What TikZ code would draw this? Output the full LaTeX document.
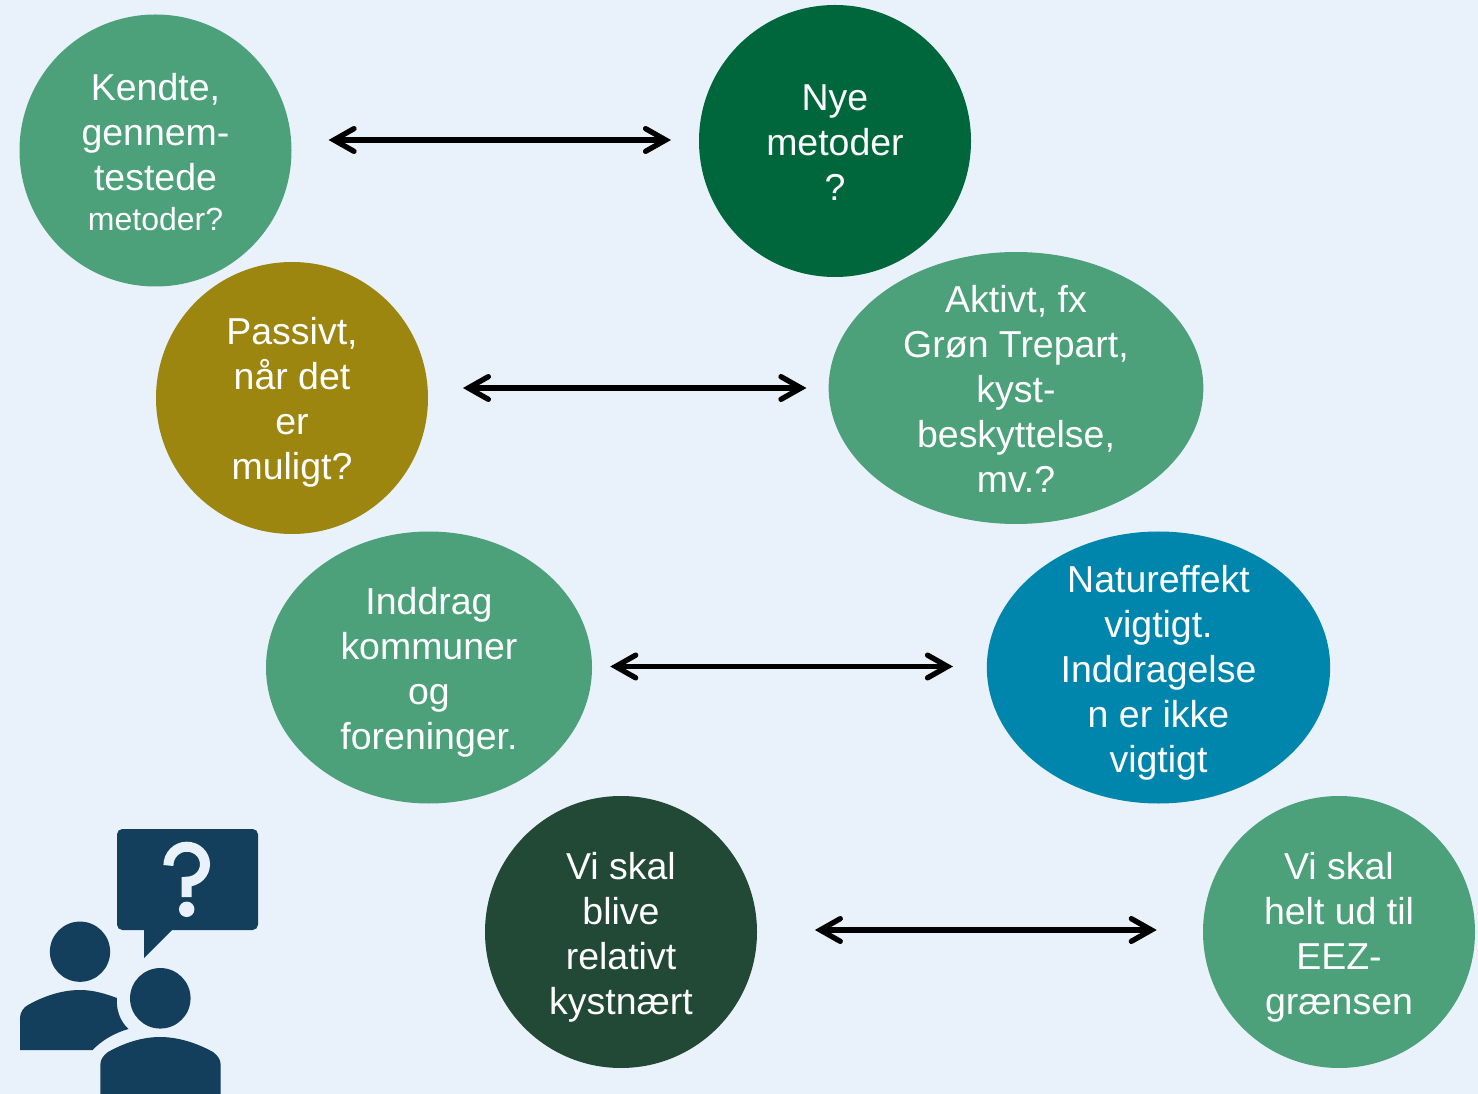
\documentclass[tikz,border=0pt]{standalone}
\usepackage{fontspec}
\setmainfont{Liberation Sans}
\usetikzlibrary{shapes.geometric,arrows.meta}
\definecolor{bgc}{HTML}{E9F2FA}
\definecolor{gA}{HTML}{4CA17A}
\definecolor{gB}{HTML}{00663C}
\definecolor{olv}{HTML}{9C8610}
\definecolor{blu}{HTML}{0085AD}
\definecolor{dkg}{HTML}{214936}
\definecolor{ico}{HTML}{143F5C}
\tikzset{
  bub/.style={ellipse,inner sep=0pt,minimum height=204pt},
  bubtxt/.style={inner sep=0pt,text=white,align=center,font=\fontsize{28.1}{33.75}\selectfont},
  biarrow/.style={line width=4pt,{Straight Barb[length=15pt,width=17pt,line cap=round]}-{Straight Barb[length=15pt,width=17pt,line cap=round]}},
  icon/.style={fill=ico,draw=none}
}
\begin{document}
\begin{tikzpicture}[x=0.75pt,y=-0.75pt]
\path[use as bounding box,fill=bgc] (0,0) rectangle (1478,1094);
\node[bub,fill=gA,minimum width=204pt,label={[bubtxt,yshift=-0.9pt]center:{Kendte,\\gennem-\\testede\\[-3.7pt]{\fontsize{24}{29}\selectfont metoder?}}}] (a1) at (155.5,150.5) {};
\node[bub,fill=gB,minimum width=204pt,label={[bubtxt,yshift=-1.5pt]center:{Nye\\metoder\\?}}] (b1) at (835,141) {};
\node[bub,fill=olv,minimum width=204pt,label={[bubtxt,yshift=-3.6pt]center:{Passivt,\\når det\\er\\muligt?}}] (a2) at (292,398) {};
\node[bub,fill=gA,minimum width=281pt,label={[bubtxt,yshift=-0.4pt]center:{Aktivt, fx\\Grøn Trepart,\\kyst-\\beskyttelse,\\mv.?}}] (b2) at (1016,388) {};
\node[bub,fill=gA,minimum width=244.5pt,label={[bubtxt,yshift=-3.9pt]center:{Inddrag\\kommuner\\og\\foreninger.}}] (a3) at (429,667.5) {};
\node[bub,fill=blu,minimum width=257.5pt,label={[bubtxt,yshift=-4.2pt]center:{Natureffekt\\vigtigt.\\Inddragelse\\n er ikke\\vigtigt}}] (b3) at (1158.5,667.5) {};
\node[bub,fill=dkg,minimum width=204pt,label={[bubtxt,yshift=-4.2pt]center:{Vi skal\\blive\\relativt\\kystnært}}] (a4) at (621,932) {};
\node[bub,fill=gA,minimum width=204pt,label={[bubtxt,yshift=-4.2pt]center:{Vi skal\\helt ud til\\EEZ-\\grænsen}}] (b4) at (1339,932) {};
\draw[biarrow,shorten <=27.6pt,shorten >=20.8pt] ([yshift=0.75pt]a1.east |- b1.west) -- ([yshift=0.75pt]b1.west);
\draw[biarrow,shorten <=26pt,shorten >=16.5pt] (a2.east |- b2.west) -- (b2.west);
\draw[biarrow,shorten <=13.5pt,shorten >=25.2pt] ([yshift=0.75pt]a3.east) -- ([yshift=0.75pt]b3.west);
\draw[biarrow,shorten <=43.2pt,shorten >=34.5pt] ([yshift=1.5pt]a4.east) -- ([yshift=1.5pt]b4.west);
% icon
\fill[icon,rounded corners=4pt] (117,829) rectangle (258,930);
\fill[icon] (144,925) -- (144,958) -- (172,930) -- (172,925) -- cycle;
\draw[bgc,line width=7.5pt] (168.4,865.5) .. controls (168.4,855) and (176.7,846.7) .. (186.7,846.7)
  .. controls (196.8,846.7) and (205,854.5) .. (205,864.2)
  .. controls (205,874) and (196.8,881.7) .. (186.7,881.7) -- (186.7,897);
\fill[bgc] (186.7,909.3) circle[radius=5.8pt];
\fill[icon] (80,951.7) circle[radius=22.6pt];
\fill[icon] (160.3,998.3) circle[radius=22.7pt];
\fill[icon] (20,1050) -- (20,1018) .. controls (20,1012) and (24,1007) .. (28,1005)
  .. controls (44,996) and (62,990) .. (80,990) .. controls (94,990) and (106,994) .. (117,998)
  .. controls (116,1010) and (120,1021) .. (128.5,1029)
  .. controls (114,1033) and (101,1041) .. (92.7,1050) -- cycle;
\fill[icon] (100.3,1094) -- (100.3,1065) .. controls (100.3,1059) and (104,1055) .. (108,1052)
  .. controls (124,1043) and (142,1037) .. (160,1037)
  .. controls (178,1037) and (197,1043) .. (213,1052)
  .. controls (217,1055) and (220.7,1059) .. (220.7,1065) -- (220.7,1094) -- cycle;
\end{tikzpicture}
\end{document}
